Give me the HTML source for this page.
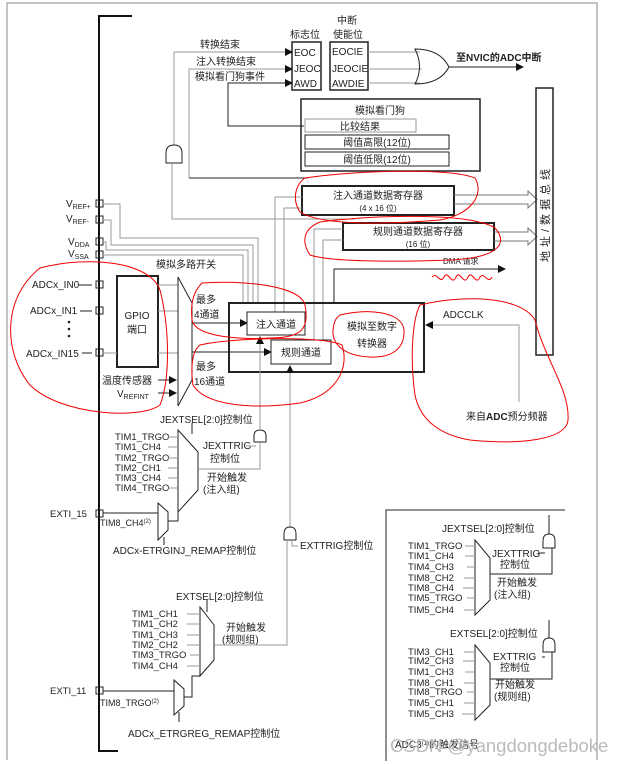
<!DOCTYPE html>
<html><head><meta charset="utf-8"><style>
html,body{margin:0;padding:0;background:#fff}
svg{display:block}
text{font-family:"Liberation Sans","Noto Sans CJK SC",sans-serif;fill:#222}
.c{text-anchor:middle}
.g{stroke:#999;fill:none}
.k{stroke:#222;fill:none}
.r{stroke:#e00;fill:none;stroke-width:1}
</style></head><body>
<svg width="626" height="764" viewBox="0 0 626 764" font-size="10" xmlns="http://www.w3.org/2000/svg">
<defs><marker id="a" markerWidth="8" markerHeight="8" refX="7" refY="4" orient="auto" markerUnits="userSpaceOnUse"><path d="M0,0 L8,4 L0,8z" fill="#111"/></marker></defs>
<path d="M7,760 V3 H597 V760" stroke="#888" fill="none"/>
<path d="M132,16 H99 V751 H118" stroke="#111" stroke-width="2" fill="none"/>
<rect x="292" y="42" width="29" height="48" class="k" stroke-width="1.5"/>
<rect x="330" y="42" width="38" height="48" class="k" stroke-width="1.5"/>
<text x="294" y="56">EOC</text><text x="294" y="72">JEOC</text><text x="294" y="87">AWD</text>
<text x="332" y="55">EOCIE</text><text x="332" y="72">JEOCIE</text><text x="332" y="87">AWDIE</text>
<text x="305" y="38" class="c">标志位</text><text x="347" y="24" class="c">中断</text><text x="348" y="38" class="c">使能位</text>
<path d="M368,52 H420 M368,69 H422 M368,83 H420" class="g"/>
<path d="M415,49 Q440,49 449,67 Q440,84 415,84 Q424,67 415,49z" class="k"/>
<path d="M449,67 H523" class="k" marker-end="url(#a)"/>
<text x="456" y="61" font-weight="bold">至NVIC的ADC中断</text>
<text x="200" y="48">转换结束</text><text x="196" y="65">注入转换结束</text><text x="195" y="80">模拟看门狗事件</text>
<path d="M174,145 V52 H292" class="g" marker-end="url(#a)"/>
<path d="M189,178 V69 H292" class="g" marker-end="url(#a)"/>
<path d="M189,178 H308" class="k"/>
<path d="M304,126 H228 V83 H292" class="k" marker-end="url(#a)"/>
<rect x="301" y="99" width="179" height="72" class="k" stroke-width="1.5"/>
<text x="380" y="114" class="c">模拟看门狗</text>
<rect x="305" y="119" width="111" height="13" class="g"/><text x="360" y="130" class="c">比较结果</text>
<rect x="305" y="135" width="144" height="14" class="k"/><text x="377" y="146" class="c">阈值高限(12位)</text>
<rect x="305" y="152" width="144" height="14" class="k"/><text x="377" y="163" class="c">阈值低限(12位)</text>
<path d="M166,163 V153 Q166,145 174,145 Q182,145 182,153 V163z" class="k"/>
<path d="M172,163 V219 H355" class="g"/>
<rect x="302" y="186" width="152" height="29" class="k" stroke-width="2"/>
<text x="378" y="199" class="c">注入通道数据寄存器</text><text x="378" y="211" class="c" font-size="8">(4 x 16 位)</text>
<rect x="343" y="223" width="151" height="27" class="k" stroke-width="2"/>
<text x="418" y="235" class="c">规则通道数据寄存器</text><text x="418" y="247" class="c" font-size="8">(16 位)</text>
<path d="M454,195 H528 V191 L537,199.5 L528,208 V204 H454" fill="none" stroke="#777"/>
<path d="M494,232 H528 V228 L537,236.5 L528,245 V241 H494" fill="none" stroke="#777"/>
<path d="M275,312 V197 H302 M284,312 V208 H302" class="g"/>
<path d="M314,340 V229 H343 M323,340 V240 H343" class="g"/>
<rect x="536" y="88" width="17" height="267" class="k" stroke-width="1.5"/>
<text transform="translate(549,262) rotate(-90)" font-size="11" letter-spacing="4">地址/数据总线</text>
<g class="k"><rect x="96" y="200" width="7" height="7"/><rect x="96" y="216" width="7" height="7"/><rect x="96" y="238" width="7" height="7"/><rect x="96" y="251" width="7" height="7"/></g>
<text x="66" y="207">V<tspan font-size="7" dy="2">REF+</tspan></text>
<text x="66" y="222">V<tspan font-size="7" dy="2">REF-</tspan></text>
<text x="68" y="245">V<tspan font-size="7" dy="2">DDA</tspan></text>
<text x="68" y="257">V<tspan font-size="7" dy="2">SSA</tspan></text>
<path d="M103,204 H120 V238 H258 V303 M103,220 H111 V245 H253 V303 M103,242 H106 V250 H248 V303 M103,255 H243 V303" class="g"/>
<g class="k"><rect x="96" y="281" width="7" height="7"/><rect x="96" y="307" width="7" height="7"/><rect x="96" y="349" width="7" height="7"/></g>
<text x="32" y="288">ADCx_IN0</text><text x="30" y="314">ADCx_IN1</text><text x="26" y="357">ADCx_IN15</text>
<path d="M78,285 H92 M80,311 H92 M82,353 H92" class="k"/>
<circle cx="69" cy="322" r="1.3" fill="#222"/><circle cx="69" cy="329" r="1.3" fill="#222"/><circle cx="69" cy="336" r="1.3" fill="#222"/>
<rect x="117" y="276" width="41" height="91" class="k" stroke-width="2"/>
<text x="137" y="319" class="c">GPIO</text><text x="137" y="333" class="c">端口</text>
<path d="M158,285 H178 M158,311 H178 M158,353 H178 M103,353 H117" class="g"/>
<text x="156" y="268">模拟多路开关</text>
<path d="M178,277 L192,303 V380 L178,406z" class="k"/>
<text x="102" y="384">温度传感器</text><path d="M158,380 H176" class="k" marker-end="url(#a)"/>
<text x="117" y="397">V<tspan font-size="7" dy="2">REFINT</tspan></text><path d="M158,393 H176" class="k" marker-end="url(#a)"/>
<text x="196" y="303">最多</text><text x="194" y="318">4通道</text>
<text x="196" y="370">最多</text><text x="194" y="385">16通道</text>
<path d="M192,323 H247" class="k" marker-end="url(#a)"/>
<path d="M192,352 H271" class="k" marker-end="url(#a)"/>
<rect x="229" y="303" width="195" height="69" class="k" stroke-width="2"/>
<rect x="247" y="312" width="58" height="23" fill="#fff" stroke="#222"/><text x="276" y="328" class="c">注入通道</text>
<rect x="271" y="340" width="60" height="24" fill="#fff" stroke="#222"/><text x="301" y="356" class="c">规则通道</text>
<text x="372" y="330" class="c">模拟至数字</text><text x="372" y="347" class="c">转换器</text>
<text x="443" y="318">ADCCLK</text>
<path d="M519,402 V325 H426" class="g" marker-end="url(#a)"/>
<text x="466" y="420">来自<tspan font-weight="bold">ADC</tspan>预分频器</text>
<text x="443" y="264" font-size="8">DMA 请求</text>
<path d="M334,303 V269 H505" class="k" marker-end="url(#a)"/>
<text x="160" y="423">JEXTSEL[2:0]控制位</text>
<path d="M178,430 L198,452 V490 L178,512z" class="k"/>
<path d="M192,423 V434" class="k"/>
<g font-size="9.5"><text x="115" y="440">TIM1_TRGO</text><text x="115" y="450">TIM1_CH4</text><text x="115" y="461">TIM2_TRGO</text><text x="115" y="471">TIM2_CH1</text><text x="115" y="481">TIM3_CH4</text><text x="115" y="491">TIM4_TRGO</text></g>
<path d="M168,437 H178 M168,447 H178 M168,458 H178 M168,468 H178 M168,478 H178 M168,488 H178" class="g"/>
<text x="203" y="449">JEXTTRIG</text><text x="210" y="462">控制位</text>
<text x="207" y="481">开始触发</text><text x="203" y="493">(注入组)</text>
<path d="M254,442 V436 Q254,430 260,430 Q266,430 266,436 V442z" class="k"/>
<path d="M198,469 H260 V442 M246,446 H256" class="g"/>
<path d="M260,430 V337" class="g" marker-end="url(#a)"/>
<path d="M290,528 V366" class="g" marker-end="url(#a)"/>
<rect x="96" y="510" width="7" height="7" class="k"/><text x="50" y="517" font-size="9.5">EXTI_15</text>
<path d="M103,513 H158" class="k"/>
<text x="100" y="526" font-size="9">TIM8_CH4<tspan dy="-3" font-size="6">(2)</tspan></text>
<path d="M158,503 L168,512 V530 L158,540z" class="k"/>
<path d="M168,521 H178 V505" class="k"/>
<path d="M164,537 V545" class="k"/>
<text x="113" y="554">ADCx-ETRGINJ_REMAP控制位</text>
<path d="M284,540 V534 Q284,527 290,527 Q296,527 296,534 V540z" class="k"/>
<path d="M292,540 V546 H298" class="g"/>
<text x="300" y="549">EXTTRIG控制位</text>
<text x="176" y="600">EXTSEL[2:0]控制位</text>
<path d="M200,607 L214,625 V660 L200,676z" class="k"/>
<path d="M207,600 V612" class="k"/>
<g font-size="9.5"><text x="132" y="617">TIM1_CH1</text><text x="132" y="627">TIM1_CH2</text><text x="132" y="638">TIM1_CH3</text><text x="132" y="648">TIM2_CH2</text><text x="132" y="658">TIM3_TRGO</text><text x="132" y="669">TIM4_CH4</text></g>
<path d="M187,614 H200 M187,624 H200 M187,635 H200 M187,645 H200 M190,655 H200 M187,666 H200" class="g"/>
<text x="226" y="631">开始触发</text><text x="222" y="643">(规则组)</text>
<path d="M214,645 H287 V540" class="g"/>
<rect x="96" y="687" width="7" height="7" class="k"/><text x="50" y="694" font-size="9.5">EXTI_11</text>
<path d="M103,691 H174" class="k"/>
<text x="100" y="706" font-size="9">TIM8_TRGO<tspan dy="-3" font-size="6">(2)</tspan></text>
<path d="M174,680 L184,689 V706 L174,715z" class="k"/>
<path d="M184,697 H192 V676 H200" class="k"/>
<path d="M179,712 V722" class="k"/>
<text x="128" y="737">ADCx_ETRGREG_REMAP控制位</text>
<path d="M386,761 V510 H565" class="k"/>
<text x="442" y="532">JEXTSEL[2:0]控制位</text>
<path d="M475,540 L490,558 V600 L475,615z" class="k"/>
<g font-size="9.5"><text x="408" y="549">TIM1_TRGO</text><text x="408" y="559">TIM1_CH4</text><text x="408" y="570">TIM4_CH3</text><text x="408" y="581">TIM8_CH2</text><text x="408" y="591">TIM8_CH4</text><text x="408" y="601">TIM5_TRGO</text><text x="408" y="613">TIM5_CH4</text></g>
<path d="M465,546 H475 M465,556 H475 M467,567 H475 M464,578 H475 M463,588 H475 M467,598 H475 M464,610 H475" class="g"/>
<text x="492" y="557">JEXTTRIG</text><text x="500" y="568">控制位</text>
<text x="497" y="586">开始触发</text><text x="494" y="598">(注入组)</text>
<path d="M543,548 V541 Q543,534 549,534 Q555,534 555,541 V548z" class="k"/>
<path d="M549,534 V515 M490,574 H552 V548 M538,553 H545" class="k"/>
<text x="450" y="637">EXTSEL[2:0]控制位</text>
<path d="M475,645 L490,663 V705 L475,720z" class="k"/>
<g font-size="9.5"><text x="408" y="655">TIM3_CH1</text><text x="408" y="664">TIM2_CH3</text><text x="408" y="675">TIM1_CH3</text><text x="408" y="686">TIM8_CH1</text><text x="408" y="695">TIM8_TRGO</text><text x="408" y="706">TIM5_CH1</text><text x="408" y="717">TIM5_CH3</text></g>
<path d="M464,652 H475 M463,661 H475 M465,672 H475 M464,683 H475 M467,692 H475 M464,703 H475 M462,714 H475" class="g"/>
<text x="493" y="660">EXTTRIG</text><text x="500" y="671">控制位</text>
<text x="495" y="688">开始触发</text><text x="494" y="700">(规则组)</text>
<path d="M543,652 V645 Q543,638 549,638 Q555,638 555,645 V652z" class="k"/>
<path d="M549,638 V620 M490,679 H552 V652 M542,657 H545" class="k"/>
<text x="395" y="748">ADC3<tspan dy="-3" font-size="6">(1)</tspan><tspan dy="3">的触发信号</tspan></text>
<text x="390" y="752" font-size="18.5" style="fill:#bbb">CSDN @yangdongdeboke</text>
<path class="r" d="M40,268 C90,255 150,262 160,290 C170,330 170,380 160,405 C140,420 60,415 30,385 C5,355 0,300 40,268z"/>
<path class="r" d="M305,178 C360,170 450,168 475,178 C485,195 470,215 440,220 C380,225 320,225 300,212 C292,200 295,185 305,178z"/>
<path class="r" d="M320,222 C370,215 470,212 495,228 C510,245 495,258 450,260 C400,262 330,262 310,255 C300,240 305,228 320,222z"/>
<path class="r" d="M432,277 c5,-6 8,8 12,0 c4,-8 8,10 12,0 c4,-8 8,10 12,0 c4,-8 8,10 12,0 c4,-6 8,8 12,0"/>
<path class="r" d="M202,283 C240,280 300,285 305,305 C310,330 300,338 270,338 C230,340 195,335 192,320 C190,300 195,290 202,283z"/>
<path class="r" d="M200,345 C230,338 320,335 342,345 C350,370 335,395 300,403 C250,410 205,405 193,385 C190,365 193,350 200,345z"/>
<path class="r" d="M340,315 C370,308 402,312 404,330 C405,350 390,358 370,357 C345,356 332,345 333,330 C334,320 337,317 340,315z"/>
<path class="r" d="M420,305 C460,295 520,295 535,320 C545,360 570,390 568,420 C566,440 520,445 470,440 C440,435 420,420 415,395 C410,360 412,320 420,305z"/>
</svg>
</body></html>
